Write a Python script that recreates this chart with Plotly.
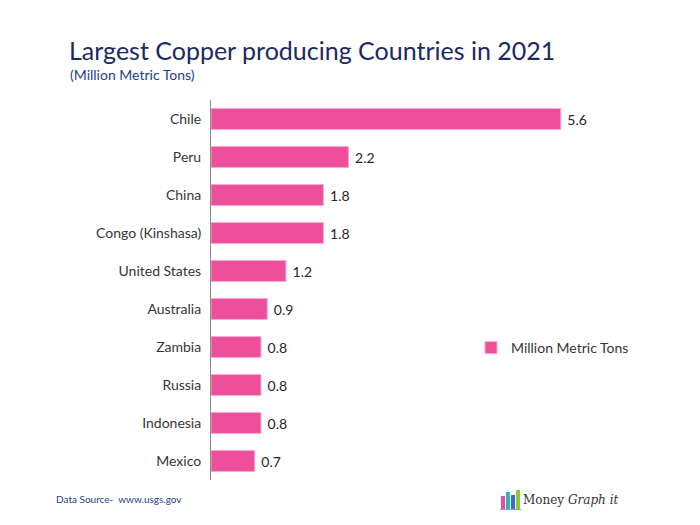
import plotly.graph_objects as go

countries = ["Chile", "Peru", "China", "Congo (Kinshasa)", "United States",
             "Australia", "Zambia", "Russia", "Indonesia", "Mexico"]
production = [5.6, 2.2, 1.8, 1.8, 1.2, 0.9, 0.8, 0.8, 0.8, 0.7]
value_labels = ["5.6", "2.2", "1.8", "1.8", "1.2", "0.9", "0.8", "0.8", "0.8", "0.7"]
series_name = "Million Metric Tons"

W, H = 700, 525
OFF = 8  # page body margin
L, T = 211 - OFF, 100 - OFF
PR, PB = 617 - OFF, 480 - OFF  # plot right / bottom in figure coords
R, B = W - PR, H - PB
PW, PH = PR - L, PB - T


def px(x):
    return (x - OFF - L) / PW


def py(y):
    return (PB - (y - OFF)) / PH


fig = go.Figure()
fig.add_trace(go.Bar(
    y=countries, x=production, orientation="h", name=series_name,
    marker=dict(color="#EE4F9B", line=dict(color="#F8A9CC", width=1)),
    width=0.55,
    text=value_labels, texttemplate=" %{text}", textposition="outside",
    textfont=dict(family="Lato", size=14, color="#262626"),
    cliponaxis=False,
))

fig.update_layout(
    width=W, height=H,
    margin=dict(l=L, r=R, t=T, b=B),
    paper_bgcolor="white", plot_bgcolor="white",
    font=dict(family="Lato", size=14, color="#363636"),
    showlegend=True,
    legend=dict(x=px(471), y=py(348),
                xanchor="left", yanchor="middle",
                font=dict(family="Lato", size=14, color="#363636"),
                bgcolor="rgba(0,0,0,0)"),
    xaxis=dict(range=[0, 6.5], visible=False, fixedrange=True),
    yaxis=dict(categoryorder="array", categoryarray=countries[::-1],
               autorange=False, range=[-0.5, len(countries) - 0.5],
               showline=True, linecolor="#8C8C8C", linewidth=1,
               ticks="", ticklen=0, showgrid=False,
               tickfont=dict(family="Lato", size=14, color="#363636"),
               ticklabelstandoff=6),
    bargap=0.45,
)

fig.add_annotation(text="Largest Copper producing Countries in 2021",
                   xref="paper", yref="paper", x=px(67), y=py(50),
                   xanchor="left", yanchor="middle", showarrow=False,
                   font=dict(family="Lato", size=25, color="#1B2A63"))
fig.add_annotation(text="(Million Metric Tons)",
                   xref="paper", yref="paper", x=px(68), y=py(74),
                   xanchor="left", yanchor="middle", showarrow=False,
                   font=dict(family="Lato", size=14, color="#243F8C"))
fig.add_annotation(text="Data Source-  www.usgs.gov",
                   xref="paper", yref="paper", x=px(54), y=py(499),
                   xanchor="left", yanchor="middle", showarrow=False,
                   font=dict(family="Lato", size=10, color="#243F8C"))
fig.add_annotation(text="Money <i>Graph it</i>",
                   xref="paper", yref="paper", x=px(521), y=py(500),
                   xanchor="left", yanchor="middle", showarrow=False,
                   font=dict(family="DejaVu Serif", size=12, color="#333333"))

# logo bars
logo = [(501, 505, 496, "#E94E9B"), (506, 510, 492, "#27B3C8"),
        (511, 515, 495, "#3A6FC4"), (516, 520, 490, "#8DC63F")]
for x0, x1, ytop, col in logo:
    fig.add_shape(type="rect", xref="paper", yref="paper",
                  x0=px(x0), x1=px(x1), y0=py(509), y1=py(ytop),
                  fillcolor=col, line=dict(width=0))
fig.add_shape(type="line", xref="paper", yref="paper",
              x0=px(500), x1=px(521), y0=py(509.5), y1=py(509.5),
              line=dict(color="#9B9BC9", width=1))

fig.write_html("out.html")
